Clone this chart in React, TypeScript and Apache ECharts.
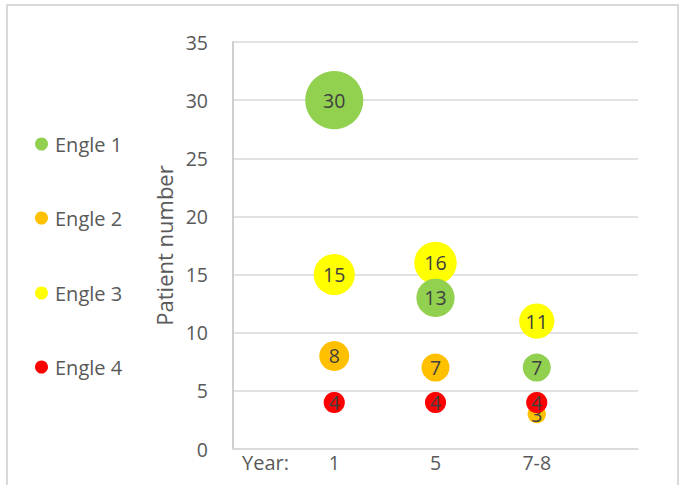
import React, { useEffect, useRef } from "react";
import * as echarts from "echarts";

// Follow-up years shown on the horizontal axis
const years = ["1", "5", "7-8"];
// Patient counts per Engle class at each follow-up year
const engle1 = [30, 13, 7];
const engle2 = [8, 7, 3];
const engle3 = [15, 16, 11];
const engle4 = [4, 4, 4];

const seriesNames = ["Engle 1", "Engle 2", "Engle 3", "Engle 4"];
const seriesValues = [engle1, engle2, engle3, engle4];
const seriesColors = ["#92D050", "#FFC000", "#FFFF00", "#FF0000"];
const seriesZ = [3, 2, 1, 4];

const FONT = "'Open Sans', 'Noto Sans', sans-serif";

export default function App() {
  const ref = useRef<HTMLDivElement>(null);

  useEffect(() => {
    document.body.style.margin = "0";
    if (!ref.current) return;
    const chart = echarts.init(ref.current, undefined, { renderer: "svg" });

    const series = seriesNames.map((name, i) => ({
      name,
      type: "scatter",
      z: seriesZ[i],
      data: seriesValues[i].map((v, j) => [j + 1, v, v]),
      symbolSize: (d: number[]) => 10.6 * Math.sqrt(d[2]),
      itemStyle: { color: seriesColors[i], opacity: 1 },
      label: {
        show: true,
        position: "inside",
        formatter: (p: any) => String(p.value[2]),
        color: "#404040",
        fontSize: 19.5,
        fontFamily: FONT,
      },
      emphasis: { disabled: true },
    }));

    const legendTops = [129, 203, 278, 352];
    const legends = seriesNames.map((name, i) => ({
      data: [name],
      left: 30,
      top: legendTops[i],
      icon: "circle",
      itemWidth: 13,
      itemHeight: 13,
      itemGap: 0,
      selectedMode: false,
      textStyle: { color: "#595959", fontSize: 20, fontFamily: FONT, padding: [0, 0, 0, 2] },
    }));

    chart.setOption({
      animation: false,
      backgroundColor: "#ffffff",
      legend: legends,
      grid: { left: 233, right: 46, top: 42, bottom: 36 },
      xAxis: {
        type: "value",
        min: 0,
        max: 4,
        interval: 1,
        axisLine: { show: true, lineStyle: { color: "#d9d9d9", width: 1.5 } },
        axisTick: { show: false },
        splitLine: { show: false },
        axisLabel: {
          color: "#595959",
          fontSize: 19.5,
          fontFamily: FONT,
          margin: 3,
          formatter: (v: number) => (v >= 1 && v <= years.length ? years[v - 1] : ""),
        },
      },
      yAxis: {
        type: "value",
        min: 0,
        max: 35,
        interval: 5,
        name: "Patient number",
        nameLocation: "middle",
        nameGap: 41,
        nameTextStyle: { color: "#595959", fontSize: 22, fontFamily: FONT },
        axisLine: { show: true, lineStyle: { color: "#bfbfbf", width: 1.5 } },
        axisTick: { show: false },
        splitLine: { show: true, lineStyle: { color: "#d9d9d9", width: 1.5 } },
        axisLabel: { color: "#595959", fontSize: 19.5, fontFamily: FONT, margin: 25 },
      },
      graphic: [
        {
          type: "rect",
          shape: { x: 7, y: 5, width: 671, height: 490 },
          style: { fill: "none", stroke: "#d9d9d9", lineWidth: 2 },
          silent: true,
        },
        {
          type: "text",
          x: 242,
          y: 462,
          style: {
            text: "Year:",
            fill: "#595959",
            fontSize: 20,
            fontFamily: FONT,
            verticalAlign: "middle",
          },
          silent: true,
        },
      ],
      series,
    });

    return () => chart.dispose();
  }, []);

  return <div ref={ref} style={{ width: 684, height: 485 }} />;
}
